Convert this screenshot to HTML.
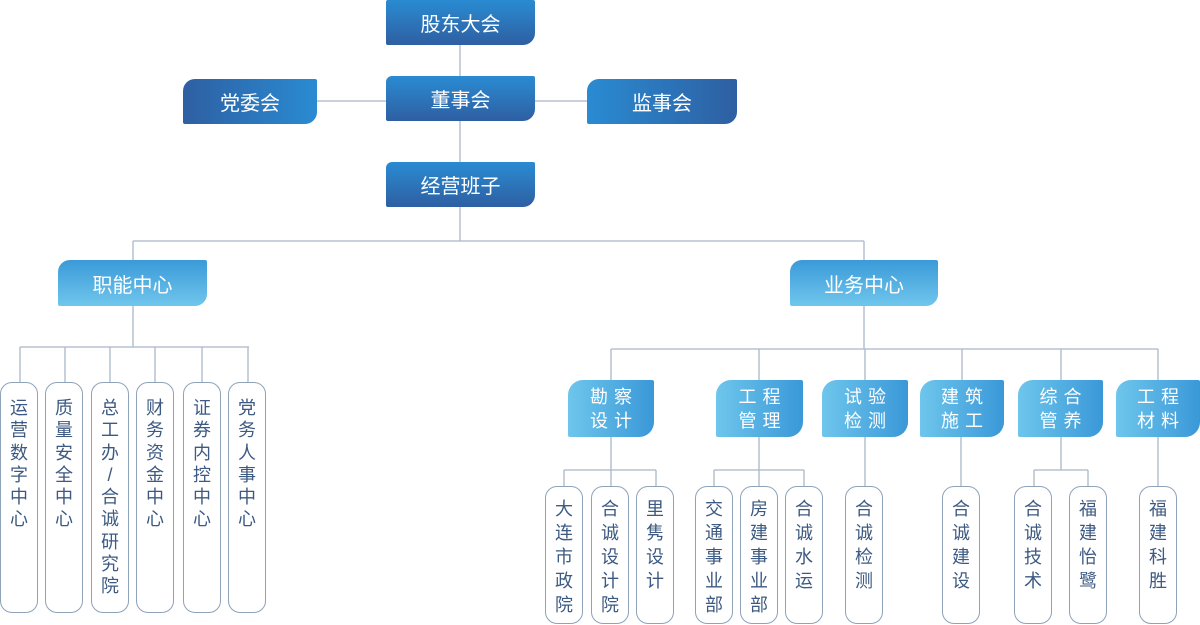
<!DOCTYPE html>
<html><head><meta charset="utf-8"><style>
body{margin:0;width:1200px;height:625px;background:#fff;position:relative;overflow:hidden;font-family:"Liberation Sans","Noto Sans CJK SC",sans-serif}
.b{position:absolute;color:#fff;display:flex;align-items:center;justify-content:center;box-sizing:border-box}
.top{width:149px;height:45px;background:linear-gradient(#2a8bd2,#2e5fa2);font-size:20px;border-radius:2px 2px 12px 2px}
.side{height:45px;font-size:20px;border-radius:12px 2px 12px 2px}
.mid{height:46px;font-size:20px;border-radius:12px 2px 12px 2px;background:linear-gradient(#3a9ad8,#70c6ec)}
.g{height:57px;font-size:18px;letter-spacing:6px;line-height:24px;text-align:center;border-radius:15px 2px 15px 2px;background:linear-gradient(90deg,#6ec6ec,#3a98d8);padding-left:6px}
.v{position:absolute;width:38px;border:1.3px solid #8ea2b8;border-radius:12px;box-sizing:border-box;color:#3d5a82;font-size:18px;text-align:center;background:#fff}
.l{top:382px;height:231px;padding-top:14px;line-height:22.3px}
.r{top:486px;height:138px;padding-top:10px;line-height:24px}
</style></head><body>
<svg width="1200" height="625" style="position:absolute;left:0;top:0" stroke="#a9b8c8" stroke-width="1.3" fill="none">
<path d="M460 45V76M317 101H386M535 101H587M460 121V162M460 207V241M133 241H864M133 241V260M864 241V260"/>
<path d="M133 306V347M20 347H249M20 347V382M65 347V382M110 347V382M155 347V382M202 347V382M248 347V382"/>
<path d="M864 306V349M611 349H1158M611 349V380M759 349V380M865 349V380M962 349V380M1061 349V380M1158 349V380"/>
<path d="M611 437V486M564 470H656M564 470V486M656 470V486"/>
<path d="M759 437V486M714 470H804M714 470V486M804 470V486"/>
<path d="M865 437V486M961 437V486M1158 437V486"/>
<path d="M1061 437V470M1034 470H1088M1034 470V486M1088 470V486"/>
</svg>
<div class="b top" style="left:386px;top:0">股东大会</div>
<div class="b top" style="left:386px;top:76px;border-radius:6px 2px 12px 2px">董事会</div>
<div class="b top" style="left:386px;top:162px;border-radius:6px 2px 12px 2px">经营班子</div>
<div class="b side" style="left:183px;top:79px;width:134px;background:linear-gradient(90deg,#2e5fa2,#2a8bd2)">党委会</div>
<div class="b side" style="left:587px;top:79px;width:150px;background:linear-gradient(90deg,#2a8bd2,#2e5fa2)">监事会</div>
<div class="b mid" style="left:58px;top:260px;width:149px">职能中心</div>
<div class="b mid" style="left:790px;top:260px;width:148px">业务中心</div>
<div class="b g" style="left:568px;top:380px;width:86px">勘察<br>设计</div>
<div class="b g" style="left:716px;top:380px;width:87px">工程<br>管理</div>
<div class="b g" style="left:822px;top:380px;width:86px">试验<br>检测</div>
<div class="b g" style="left:920px;top:380px;width:84px">建筑<br>施工</div>
<div class="b g" style="left:1018px;top:380px;width:85px">综合<br>管养</div>
<div class="b g" style="left:1116px;top:380px;width:84px">工程<br>材料</div>
<div class="v l" style="left:0">运<br>营<br>数<br>字<br>中<br>心</div>
<div class="v l" style="left:45px">质<br>量<br>安<br>全<br>中<br>心</div>
<div class="v l" style="left:91px">总<br>工<br>办<br>/<br>合<br>诚<br>研<br>究<br>院</div>
<div class="v l" style="left:136px">财<br>务<br>资<br>金<br>中<br>心</div>
<div class="v l" style="left:183px">证<br>券<br>内<br>控<br>中<br>心</div>
<div class="v l" style="left:228px">党<br>务<br>人<br>事<br>中<br>心</div>
<div class="v r" style="left:545px">大<br>连<br>市<br>政<br>院</div>
<div class="v r" style="left:591px">合<br>诚<br>设<br>计<br>院</div>
<div class="v r" style="left:636px">里<br>隽<br>设<br>计</div>
<div class="v r" style="left:695px">交<br>通<br>事<br>业<br>部</div>
<div class="v r" style="left:740px">房<br>建<br>事<br>业<br>部</div>
<div class="v r" style="left:785px">合<br>诚<br>水<br>运</div>
<div class="v r" style="left:845px">合<br>诚<br>检<br>测</div>
<div class="v r" style="left:942px">合<br>诚<br>建<br>设</div>
<div class="v r" style="left:1014px">合<br>诚<br>技<br>术</div>
<div class="v r" style="left:1069px">福<br>建<br>怡<br>鹭</div>
<div class="v r" style="left:1139px">福<br>建<br>科<br>胜</div>
</body></html>
